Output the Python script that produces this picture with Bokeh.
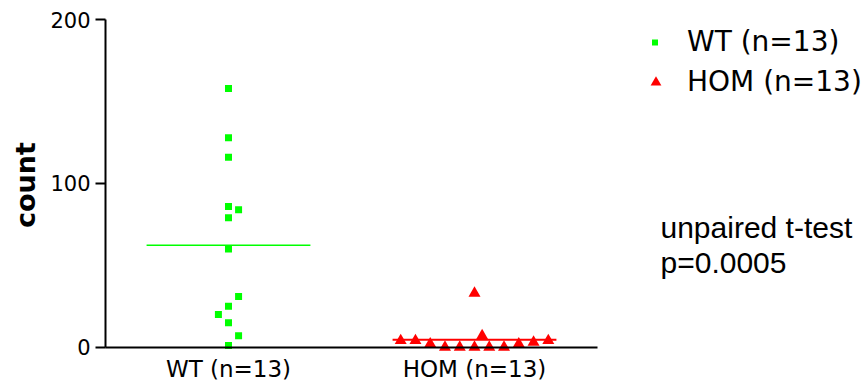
import numpy as np
from bokeh.plotting import figure
from bokeh.models import (Range1d, FixedTicker, Legend, LegendItem,
                          Label, ColumnDataSource)
from bokeh.embed import file_html
from bokeh.resources import INLINE

# ---- data ----
categories = ["WT (n=13)", "HOM (n=13)"]
wt_values = [158, 128, 116, 86, 84, 79, 60, 31, 25, 20, 15, 7, 1]
hom_values = [4, 4, 2, 0, 0, 0, 0, 0, 2, 3, 4, 7, 33]
y_ticks = [0, 100, 200]
y_label = "count"
stat_lines = ["unpaired t-test", "p=0.0005"]

# scatter (beeswarm) offsets, in category widths
wt_jitter = [0, 0, 0, 0, 0.041, 0, 0, 0.041, 0, -0.041, 0, 0.041, 0]
hom_jitter = [-0.30, -0.24, -0.18, -0.12, -0.06, 0, 0.06, 0.12, 0.18, 0.24, 0.30, 0.031, 0]

GREEN = "#00FF00"
RED = "#FF0000"
FONT = "DejaVu Sans"
W, H = 863, 384

cat_pos = {c: i + 1 for i, c in enumerate(categories)}

p = figure(width=W, height=H,
           x_range=Range1d(0.0732, 3.5813), y_range=Range1d(-22.8, 211.8),
           output_backend="svg", toolbar_location=None,
           min_border_left=0, min_border_right=0,
           min_border_top=0, min_border_bottom=0)
p.xgrid.visible = False
p.ygrid.visible = False
p.outline_line_color = None
p.background_fill_color = None

wt_src = ColumnDataSource(dict(x=[cat_pos[categories[0]] + j for j in wt_jitter], y=wt_values))
hom_src = ColumnDataSource(dict(x=[cat_pos[categories[1]] + j for j in hom_jitter], y=hom_values))

wt_r = p.scatter("x", "y", source=wt_src, marker="square", size=7,
                 fill_color=GREEN, line_color=None)
hom_r = p.scatter("x", "y", source=hom_src, marker="triangle", size=12,
                  fill_color=RED, line_color=None)

means = [float(np.mean(wt_values)), float(np.mean(hom_values))]
mean_src = ColumnDataSource(dict(
    x0=[cat_pos[c] - 0.333 for c in categories],
    x1=[cat_pos[c] + 0.333 for c in categories],
    y=means, color=[GREEN, RED], w=[1.5, 2]))
p.segment(x0="x0", y0="y", x1="x1", y1="y", source=mean_src,
          line_color="color", line_width="w")

# axes
xa = p.xaxis[0]
xa.fixed_location = 0
xa.bounds = (0.5, 2.5)
xa.ticker = FixedTicker(ticks=[cat_pos[c] for c in categories])
xa.major_label_overrides = {cat_pos[c]: c for c in categories}
xa.axis_line_width = 2
xa.axis_line_color = "black"
xa.major_tick_line_color = None
xa.major_tick_out = 0
xa.major_tick_in = 0
xa.minor_tick_line_color = None
xa.major_label_text_font = FONT
xa.major_label_text_font_size = "23px"
xa.major_label_text_color = "black"
xa.major_label_standoff = 9

ya = p.yaxis[0]
ya.fixed_location = 0.5
ya.bounds = (0, 200)
ya.ticker = FixedTicker(ticks=y_ticks)
ya.axis_line_width = 2
ya.axis_line_color = "black"
ya.major_tick_line_width = 2
ya.major_tick_line_color = "black"
ya.major_tick_out = 10
ya.major_tick_in = 0
ya.minor_tick_line_color = None
ya.major_label_text_font = FONT
ya.major_label_text_font_size = "21px"
ya.major_label_text_color = "black"
ya.major_label_standoff = 5

p.add_layout(Label(x=25, y=H - 184.5, x_units="screen", y_units="screen",
                   text=y_label, angle=np.pi / 2, text_align="center",
                   text_baseline="middle", text_font=FONT, text_font_style="bold",
                   text_font_size="27px", text_color="black"))

# legends (one per item so the markers can have different sizes)
def make_legend(item, gw, standoff, loc):
    return Legend(items=[item], location=loc, padding=0, margin=0, spacing=0,
                  glyph_width=gw, glyph_height=32, label_height=32,
                  label_standoff=standoff, border_line_alpha=0,
                  background_fill_alpha=0, label_text_font=FONT,
                  label_text_font_size="28px", label_text_color="black")

p.add_layout(make_legend(LegendItem(label=categories[0], renderers=[wt_r]), 15, 25, (647, H - 58)))
p.add_layout(make_legend(LegendItem(label=categories[1], renderers=[hom_r]), 27, 18, (642, H - 98)))

for txt, yy in zip(stat_lines, [226.7, 261.7]):
    p.add_layout(Label(x=660, y=H - yy, x_units="screen", y_units="screen", text=txt,
                       text_font="Liberation Sans", text_font_size="30px",
                       text_color="black", text_baseline="alphabetic"))

open("out.html", "w").write(file_html(p, INLINE))
